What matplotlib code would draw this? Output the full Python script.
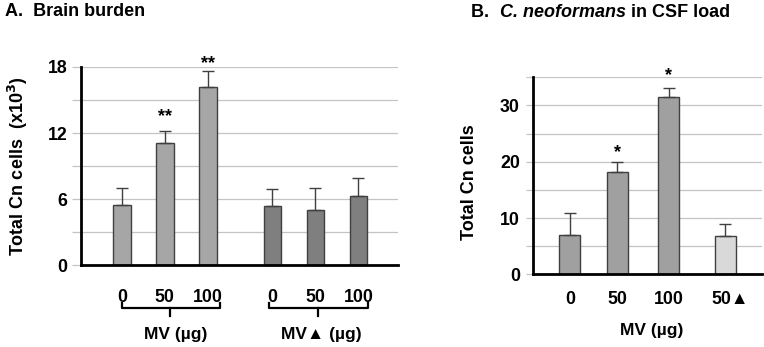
import matplotlib
matplotlib.use('Agg')
import matplotlib.pyplot as plt
import matplotlib.transforms as mtransforms

plt.rcParams['font.family'] = ['Liberation Sans', 'DejaVu Sans']
plt.rcParams['font.weight'] = 'bold'

# ── data ────────────────────────────────────────────────
a_labels = ['0', '50', '100', '0', '50', '100']
a_means = [5.45, 11.05, 16.2, 5.35, 5.0, 6.25]
a_err = [1.6, 1.1, 1.45, 1.6, 2.0, 1.7]
a_stars = ['', '**', '**', '', '', '']

b_labels = ['0', '50', '100', '50\u25b2']
b_means = [6.9, 18.2, 31.5, 6.75]
b_err = [3.95, 1.7, 1.6, 2.2]
b_stars = ['', '*', '*', '']

# ── layout / style ──────────────────────────────────────
a_pos = [0, 1, 2, 3.5, 4.5, 5.5]
a_cols = ['#a6a6a6'] * 3 + ['#7f7f7f'] * 3
b_pos = [0, 0.95, 1.98, 3.11]
b_cols = ['#a0a0a0'] * 3 + ['#d9d9d9']
EDGE = '#404040'
GRID = '#c4c4c4'
FS_TICK = 12.8

fig = plt.figure(figsize=(7.64, 3.47), dpi=100)
axA = fig.add_axes([0.106, 0.236, 0.415, 0.571])
axB = fig.add_axes([0.697, 0.2095, 0.300, 0.5677])


def style(ax, top, step, major, xpad, tlen, ypad):
    ax.set_ylim(0, top)
    for v in range(step, top + 1, step):
        ax.axhline(v, color=GRID, lw=0.9, zorder=0)
    ax.set_yticks(major)
    ax.set_yticks([v for v in range(step, top + 1, step) if v not in major], minor=True)
    ax.set_yticklabels([str(m) for m in major], fontsize=FS_TICK, fontweight='bold')
    for s in ['top', 'right']:
        ax.spines[s].set_visible(False)
    ax.spines['left'].set_linewidth(2)
    ax.spines['bottom'].set_linewidth(2)
    ax.tick_params(axis='y', which='both', length=tlen, width=0.9, color=GRID, pad=ypad)
    ax.tick_params(axis='x', length=0, pad=xpad, labelsize=FS_TICK)


# ── A. Brain burden ─────────────────────────────────────
axA.set_xlim(-0.95, 6.42)
style(axA, 18, 3, [0, 6, 12, 18], 17, 6.5, 3.4)
axA.bar(a_pos, a_means, width=0.41, color=a_cols, edgecolor=EDGE, lw=1, zorder=2)
axA.errorbar(a_pos, a_means, yerr=[[0] * 6, a_err], fmt='none', ecolor=EDGE,
             elinewidth=1, capsize=4.5, capthick=1, zorder=3)
axA.set_xticks(a_pos)
axA.set_xticklabels(a_labels, fontweight='bold')
star_a = [0, 13.5, 18.3, 0, 0, 0]
for x, s, y in zip(a_pos, a_stars, star_a):
    if s:
        axA.text(x, y, s, ha='center', va='center', fontsize=13)
axA.set_ylabel('Total Cn cells  (x10$^{3}$)', fontsize=13, fontweight='bold',
               va='center')
axA.yaxis.set_label_coords(-0.199, 0.5)

# brackets under the groups
for x0, xm, x1, lbl, lx in [(0, 1.13, 2.28, 'MV (\u00b5g)', 1.25),
                            (3.43, 4.56, 5.73, 'MV\u25b2 (\u00b5g)', 4.64)]:
    axA.plot([x0, x0, x1, x1], [-3.45, -3.9, -3.9, -3.45], color='black',
             lw=1.6, clip_on=False)
    axA.plot([xm, xm], [-3.9, -4.6], color='black', lw=1.6, clip_on=False)
    axA.text(lx, -6.3, lbl, ha='center', va='center', fontsize=12.5)

fig.text(0.006, 0.968, 'A.  Brain burden', ha='left', va='center',
         fontsize=13, fontweight='bold')

# ── B. CSF load ─────────────────────────────────────────
axB.set_xlim(-0.75, 3.84)
style(axB, 35, 5, [0, 10, 20, 30], 12, 5, 4)
axB.bar(b_pos, b_means, width=0.42, color=b_cols, edgecolor=EDGE, lw=1, zorder=2)
axB.errorbar(b_pos, b_means, yerr=[[0] * 4, b_err], fmt='none', ecolor=EDGE,
             elinewidth=1, capsize=4.5, capthick=1, zorder=3)
axB.set_xticks(b_pos)
axB.set_xticklabels(b_labels, fontweight='bold')
last = axB.get_xticklabels()[-1]
last.set_transform(last.get_transform() + mtransforms.ScaledTranslation(5 / 100, 0, fig.dpi_scale_trans))
star_b = [0, 21.7, 35.3, 0]
for x, s, y in zip(b_pos, b_stars, star_b):
    if s:
        axB.text(x, y, s, ha='center', va='center', fontsize=13, clip_on=False)
axB.set_ylabel('Total Cn cells', fontsize=13, fontweight='bold', va='center')
axB.yaxis.set_label_coords(-0.273, 0.466)
axB.text(1.63, -9.9, 'MV (\u00b5g)', ha='center', va='center', fontsize=12.5)

# title B with italic species name
TY = 0.9496
t1 = fig.text(0.617, TY, 'B.  ', ha='left', va='baseline', fontsize=13,
              fontweight='bold')
t2 = fig.text(0, TY, 'C. neoformans', va='baseline', fontsize=13,
              fontweight='bold', style='italic')
t3 = fig.text(0, TY, ' in CSF load', va='baseline', fontsize=13, fontweight='bold')
fig.canvas.draw()
r = fig.canvas.get_renderer()
inv = fig.transFigure.inverted()
t2.set_x(inv.transform((t1.get_window_extent(r).x1, 0))[0])
fig.canvas.draw()
t3.set_x(inv.transform((t2.get_window_extent(r).x1, 0))[0])

fig.savefig('out.png', dpi=100)
